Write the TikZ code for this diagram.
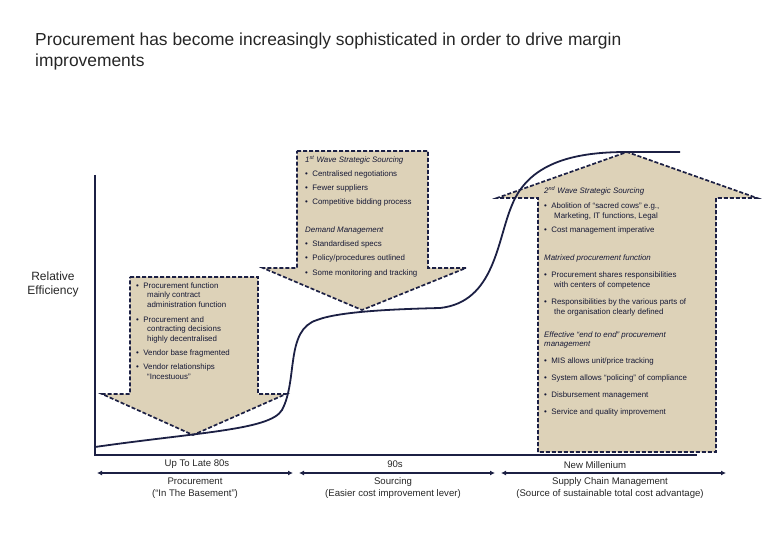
\documentclass[tikz,border=0pt]{standalone}
\usepackage{fontspec}
\setmainfont{Liberation Sans}
\usetikzlibrary{arrows.meta}
\definecolor{tan}{RGB}{221,210,184}
\definecolor{navy}{RGB}{28,32,68}
\begin{document}
\begin{tikzpicture}[x=1pt,y=-1pt,
  blk/.style={fill=tan,draw=navy,dash pattern=on 4pt off 2pt,line width=1.7pt,line join=miter},
  tx/.style={anchor=west,inner sep=0,font=\fontsize{7.9}{9}\selectfont,text=navy!80!black},
  it/.style={tx,font=\fontsize{7.9}{9}\selectfont\itshape},
  lbl/.style={inner sep=0,font=\fontsize{9.6}{12}\selectfont,text=black!85,align=center},
  dbl/.style={navy,line width=1.6pt,{Latex[length=5pt,width=5pt]}-{Latex[length=5pt,width=5pt]}}]
\useasboundingbox (0,0) rectangle (780,540);
% title
\node[anchor=north west,inner sep=0,align=left,font=\fontsize{17.4}{21}\selectfont,text=black!85] (title) at (35,33) {Procurement has become increasingly sophisticated in order to drive margin\\improvements};
\node[inner sep=0,align=center,font=\fontsize{12}{14}\selectfont,text=black!85] (rel) at (53,284) {Relative\\Efficiency};
% arrows
\draw[blk] (130,277) -- (258,277) -- (258,394) -- (286,394) -- (193,435) -- (102,394) -- (130,394) -- cycle;
\draw[blk] (297,151) -- (428,151) -- (428,268) -- (466,268) -- (362,310) -- (263,268) -- (297,268) -- cycle;
\draw[blk] (538,452) -- (538,198) -- (497,198) -- (627,152) -- (757,198) -- (716,198) -- (716,452) -- cycle;
% curve and axes
\draw[navy,line width=1.8pt] (95,175) -- (95,455) -- (697,455);
\draw[navy,line width=1.8pt] (95,447) .. controls (200,432) and (270,430) .. (282,410)
  .. controls (298,380) and (285,330) .. (317,320) .. controls (340,311) and (400,309) .. (440,308)
  .. controls (495,302) and (497,240) .. (512,205) .. controls (530,160) and (580,152) .. (627,152) -- (680,152);
% arrow 1 text
\node[tx] (a1) at (136,286) {•\ \ Procurement function};
\node[tx] at (147,295.5) {mainly contract};
\node[tx] at (147,305) {administration function};
\node[tx] at (136,320) {•\ \ Procurement and};
\node[tx] at (147,329.5) {contracting decisions};
\node[tx] at (147,339) {highly decentralised};
\node[tx] at (136,353) {•\ \ Vendor base fragmented};
\node[tx] at (136,367) {•\ \ Vendor relationships};
\node[tx] at (147,377) {``Incestuous''};
% arrow 2 text
\node[it] (h1) at (305,160) {1\textsuperscript{st} Wave Strategic Sourcing};
\node[tx] at (305,174) {•\ \ Centralised negotiations};
\node[tx] at (305,188) {•\ \ Fewer suppliers};
\node[tx] at (305,202) {•\ \ Competitive bidding process};
\node[it] at (305,230) {Demand Management};
\node[tx] at (305,244) {•\ \ Standardised specs};
\node[tx] at (305,258) {•\ \ Policy/procedures outlined};
\node[tx] at (305,273) {•\ \ Some monitoring and tracking};
% arrow 3 text
\node[it] (h2) at (544,191) {2\textsuperscript{nd} Wave Strategic Sourcing};
\node[tx] at (544,206) {•\ \ Abolition of ``sacred cows'' e.g.,};
\node[tx] at (554,216) {Marketing, IT functions, Legal};
\node[tx] at (544,230) {•\ \ Cost management imperative};
\node[it] at (544,258) {Matrixed procurement function};
\node[tx] at (544,275) {•\ \ Procurement shares responsibilities};
\node[tx] at (554,285) {with centers of competence};
\node[tx] at (544,302) {•\ \ Responsibilities by the various parts of};
\node[tx] at (554,312) {the organisation clearly defined};
\node[it] at (544,335) {Effective ``end to end'' procurement};
\node[it] at (544,345) {management};
\node[tx] at (544,361) {•\ \ MIS allows unit/price tracking};
\node[tx] at (544,378) {•\ \ System allows ``policing'' of compliance};
\node[tx] at (544,395) {•\ \ Disbursement management};
\node[tx] at (544,412) {•\ \ Service and quality improvement};
% bottom timeline
\coordinate (p1) at (97,473); \coordinate (p2) at (293,473);
\coordinate (p3) at (299,473); \coordinate (p4) at (495,473);
\coordinate (p5) at (501,473); \coordinate (p6) at (726,473);
\draw[dbl] (p1) -- (p2); \draw[dbl] (p3) -- (p4); \draw[dbl] (p5) -- (p6);
\node[lbl] (t1) at (197,464) {Up To Late 80s};
\node[lbl] (t2) at (395,464) {90s};
\node[lbl] (t3) at (595,465) {New Millenium};
\node[lbl] (b1) at (195,488) {Procurement\\(``In The Basement'')};
\node[lbl] (b2) at (393,488) {Sourcing\\(Easier cost improvement lever)};
\node[lbl] (b3) at (610,488) {Supply Chain Management\\(Source of sustainable total cost advantage)};
\end{tikzpicture}
\end{document}
